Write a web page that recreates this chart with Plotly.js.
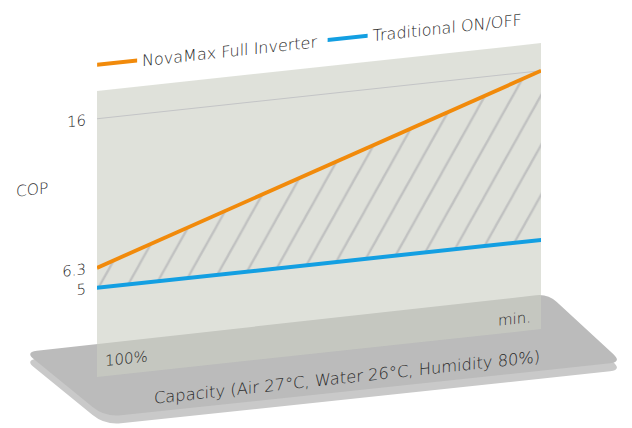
<!DOCTYPE html>
<html><head><meta charset="utf-8">
<script src="https://cdn.plot.ly/plotly-3.0.1.min.js"></script>
<style>
html,body{margin:0;padding:0;width:632px;height:428px;overflow:hidden;background:#fff}
#base,#chart{position:absolute;left:0;top:0;width:632px;height:428px}
#chart{transform:skewY(-6.16deg);transform-origin:97px 91px}
</style></head><body>
<div id="base"></div><div id="chart"></div>
<script>
// ---- data ----
const capacity = ["100%", "min."];
const novamax = [6.3, 16];
const traditional = [5, 5];
const copTicks = [5, 6.3, 16];
const copTickText = ["5", "6.3", "16"];
const seriesNames = ["NovaMax Full Inverter", "Traditional ON/OFF"];
const axisTitleX = "Capacity (Air 27°C, Water 26°C, Humidity 80%)";
const axisTitleY = "COP";

const FONT = "DejaVu Sans, Open Sans, sans-serif";
const W = 200;
const TXT = "#2a2a2a";
const ORANGE = "#f18a0b";
const BLUE = "#139fe2";

// ---- decorative platform (base layer) ----
function roundedPath(pts, radii, dy) {
  const n = pts.length; let d = "";
  for (let i = 0; i < n; i++) {
    const p = pts[i], a = pts[(i - 1 + n) % n], b = pts[(i + 1) % n], r = radii[i];
    const la = Math.hypot(a[0]-p[0], a[1]-p[1]), lb = Math.hypot(b[0]-p[0], b[1]-p[1]);
    const s = [p[0] + (a[0]-p[0]) * r / la, p[1] + (a[1]-p[1]) * r / la + dy];
    const e = [p[0] + (b[0]-p[0]) * r / lb, p[1] + (b[1]-p[1]) * r / lb + dy];
    d += (i === 0 ? "M" : "L") + s[0].toFixed(1) + "," + s[1].toFixed(1) +
         " Q" + p[0] + "," + (p[1] + dy) + " " + e[0].toFixed(1) + "," + e[1].toFixed(1) + " ";
  }
  return d + "Z";
}
const platformCorners = [[25, 352], [548, 294], [622, 362], [105, 417]];
const platformRadii = [12, 12, 12, 16];

Plotly.newPlot("base", [], {
  width: 632, height: 428, margin: {l: 0, r: 0, t: 0, b: 0},
  paper_bgcolor: "#ffffff", plot_bgcolor: "rgba(0,0,0,0)",
  xaxis: {range: [0, 632], visible: false, fixedrange: true},
  yaxis: {range: [428, 0], visible: false, fixedrange: true},
  shapes: [
    {type: "path", path: roundedPath(platformCorners, platformRadii, 8), fillcolor: "#c9c9c9", line: {width: 0}, layer: "below"},
    {type: "path", path: roundedPath(platformCorners, platformRadii, 0), fillcolor: "#bbbbbb", line: {width: 0}, layer: "below"}
  ]
}, {staticPlot: true, displayModeBar: false});

// ---- chart layer (skewed by CSS) ----
const traces = [
  {x: capacity, y: traditional, name: seriesNames[1], type: "scatter", mode: "lines",
   line: {color: BLUE, width: 4}},
  {x: capacity, y: novamax, name: "hatch", type: "scatter", mode: "lines", showlegend: false,
   line: {width: 0, color: "rgba(0,0,0,0)"}, fill: "tonexty", fillcolor: "rgba(0,0,0,0)",
   fillpattern: {shape: "/", size: 21, solidity: 0.09, fgcolor: "#bfc0c0", bgcolor: "rgba(0,0,0,0)"}},
  {x: capacity, y: novamax, name: seriesNames[0], type: "scatter", mode: "lines",
   line: {color: ORANGE, width: 4}}
];

const layout = {
  width: 632, height: 428, margin: {l: 97, r: 91, t: 91, b: 51},
  paper_bgcolor: "rgba(0,0,0,0)", plot_bgcolor: "rgba(204,206,196,0.62)",
  font: {family: FONT, color: TXT, size: 15, weight: W},
  showlegend: true,
  legend: {orientation: "h", x: -0.011, xanchor: "left", y: 1.091, yanchor: "middle",
           traceorder: "reversed", itemwidth: 40,
           font: {family: FONT, size: 16, color: TXT, weight: W},
           bgcolor: "rgba(0,0,0,0)"},
  xaxis: {type: "category", range: [0, 1], showticklabels: false, showgrid: false,
          zeroline: false, showline: false, ticks: "", fixedrange: true},
  yaxis: {range: [-0.8, 17.8], tickmode: "array", tickvals: copTicks, ticktext: copTickText,
          showgrid: false, zeroline: false, showline: false, ticks: "", ticklabelstandoff: 10,
          tickfont: {family: FONT, size: 15, color: TXT, weight: W}, fixedrange: true},
  shapes: [
    {type: "line", xref: "paper", x0: 0, x1: 1, yref: "y", y0: copTicks[copTicks.length - 1],
     y1: copTicks[copTicks.length - 1], line: {color: "#c3c4c6", width: 1}, layer: "below"}
  ],
  annotations: [
    {text: capacity[0], x: capacity[0], xref: "x", y: 0, yref: "paper", xanchor: "left",
     yanchor: "bottom", xshift: 6, yshift: 4, showarrow: false, font: {size: 15}},
    {text: capacity[1], x: capacity[1], xref: "x", y: 0, yref: "paper", xanchor: "right",
     yanchor: "bottom", xshift: -8, yshift: 2, showarrow: false, font: {size: 15}},
    {text: axisTitleY, x: -0.146, xref: "paper", y: 0.678, yref: "paper", xanchor: "center",
     yanchor: "middle", showarrow: false, font: {size: 15.5}},
    {text: axisTitleX, x: 0.562, xref: "paper", y: -0.095, yref: "paper", xanchor: "center",
     yanchor: "middle", showarrow: false, font: {size: 16.3}}
  ]
};

Plotly.newPlot("chart", traces, layout, {staticPlot: true, displayModeBar: false}).then(function (gd) {
  // steepen hatch lines to match the reference
  gd.querySelectorAll("pattern").forEach(function (p) {
    p.setAttribute("patternTransform", "skewX(22)");
  });
});
</script>
</body></html>
